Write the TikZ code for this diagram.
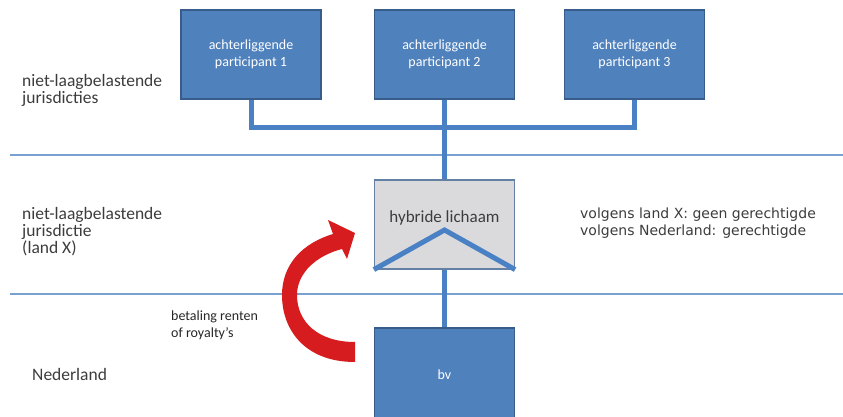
\documentclass[tikz,border=0pt]{standalone}
\usepackage{fontspec}
\setmainfont{Carlito}
\newfontfamily\volgensfont{DejaVu Sans}
\usetikzlibrary{calc}

\definecolor{boxblue}{RGB}{79,129,189}
\definecolor{boxedge}{RGB}{56,93,138}
\definecolor{connblue}{RGB}{74,128,196}
\definecolor{sepblue}{RGB}{120,160,208}
\definecolor{hybgrey}{RGB}{218,218,220}
\definecolor{hybedge}{RGB}{100,128,165}
\definecolor{labelgrey}{RGB}{60,60,60}
\definecolor{payred}{RGB}{214,28,30}

\begin{document}
\begin{tikzpicture}[x=1pt,y=-1pt,
            partbox/.style={draw=boxedge, line width=1.2pt, fill=boxblue, text=white,
                minimum width=140pt, minimum height=89pt, inner sep=0pt, align=center,
                font=\fontsize{14}{16.5}\selectfont},
            hybbox/.style={draw=hybedge, line width=1.2pt, fill=hybgrey,
                minimum width=140pt, minimum height=89pt, inner sep=0pt},
            conn/.style={connblue, line width=5pt},
            sepline/.style={sepblue, line width=1.3pt},
            sidelabel/.style={anchor=west, inner sep=0pt, align=left, text=labelgrey,
                font=\fontsize{17.5}{17}\selectfont}]
            \useasboundingbox (0,0) rectangle (843,417);
            \clip (0,0) rectangle (843,417);

            \draw[sepline] (10,155) -- (843,155);
            \draw[sepline] (10,294) -- (843,294);

            \node[partbox] (part1) at (251,54.5) {achterliggende\\participant 1};
            \node[partbox] (part2) at (444.5,54.5) {achterliggende\\participant 2};
            \node[partbox] (part3) at (634.5,54.5) {achterliggende\\participant 3};
            \node[hybbox] (hyb) at (444.5,224.5) {};
            \node[partbox, minimum height=94pt] (bv) at (444.5,375) {bv};

            \coordinate (junc) at (444.5,128);
            \coordinate (apex) at (444.5,230);
            \draw[conn] (part1.south) |- (junc) -| (part3.south);
            \draw[conn] (part2.south) -- (hyb.north);
            \draw[conn] (hyb.south) -- (bv.north);
            \draw[conn] (hyb.south west) -- (apex) -- (hyb.south east);

            \node[inner sep=0pt, text=labelgrey, font=\fontsize{17}{17}\selectfont] (hybtxt)
                at ([yshift=7pt]hyb.center) {hybride lichaam};

            \node[sidelabel] (lbltop) at (22,90) {niet-laagbelastende\\jurisdicties};
            \node[sidelabel] (lblmid) at (22,232) {niet-laagbelastende\\jurisdictie\\(land X)};
            \node[sidelabel] (lblnl) at (32,374) {Nederland};
            \node[sidelabel, text=black!85, font=\fontsize{14}{17}\selectfont] (lblpay)
                at (171,325.5) {betaling renten\\of royalty's};
            \node[sidelabel, font=\volgensfont\fontsize{14}{17.5}\selectfont] (lblvolg)
                at (580,223) {volgens land X: geen gerechtigde\\volgens Nederland: gerechtigde};

            \fill[payred] (355,362) .. controls (305,362) and (282,330) .. (282,295)
                .. controls (282,264) and (303,243) .. (333,234) -- (328,220) -- (355,233)
                -- (347,259) -- (342,249) .. controls (318,255) and (297,272) .. (297,295)
                .. controls (297,322) and (318,342) .. (355,342) -- cycle;
        \end{tikzpicture}
\end{document}
